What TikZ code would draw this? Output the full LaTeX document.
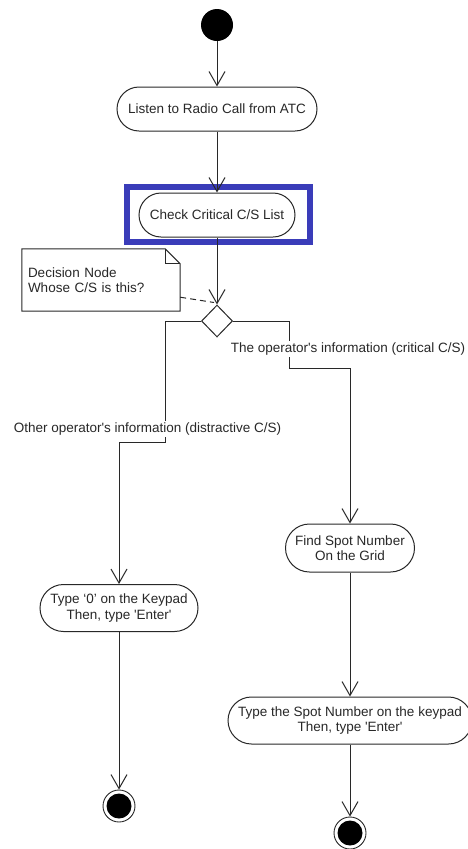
\documentclass[tikz,border=0pt]{standalone}
\usepackage{fontspec}
\setmainfont{Liberation Sans}
\usetikzlibrary{arrows.meta,shapes.geometric,calc,backgrounds}
\definecolor{ink}{RGB}{40,40,40}
\definecolor{frameblue}{RGB}{58,60,185}
\begin{document}
\begin{tikzpicture}[x=1pt,y=1pt,
  every node/.style={font=\fontsize{13.5}{15.5}\selectfont, text=ink},
  action/.style={draw=ink, line width=1pt, rectangle, align=center, inner sep=0pt, fill=white},
  flow/.style={draw=ink, line width=1pt, -{Straight Barb[length=14pt,width=16pt,line width=1pt]}},
  plain/.style={draw=ink, line width=1pt},
  guard/.style={fill=white, inner sep=1.5pt},
  startdot/.style={circle, fill=black, minimum size=32pt, inner sep=0pt},
  endring/.style={circle, draw=ink, line width=0.9pt, minimum size=32pt, inner sep=0pt,
    path picture={\fill[black] (path picture bounding box.center) circle (12.5pt);}},
  choice/.style={diamond, draw=ink, line width=1pt, fill=white, minimum width=31pt, minimum height=32pt, inner sep=0pt},
  notebox/.style={text width=146pt, align=left, inner sep=6pt, minimum height=62pt},
]
\useasboundingbox (0,0) rectangle (468,-849);

% activity nodes
\node[startdot] (start) at (217,-25) {};
\node[action, minimum width=200pt, minimum height=44pt, rounded corners=22pt] (listen) at (217,-109) {Listen to Radio Call from ATC};
\node[action, minimum width=156pt, minimum height=44pt, rounded corners=22pt] (check) at (217,-215) {Check Critical C/S List};
\node[draw=frameblue, line width=6pt, minimum width=183pt, minimum height=55pt, inner sep=0pt] (focus) at (218.5,-214.5) {};
\node[choice] (dec) at (217,-321) {};
\node[action, minimum width=129pt, minimum height=48pt, rounded corners=24pt] (find) at (350,-548) {Find Spot Number\\On the Grid};
\node[action, minimum width=158pt, minimum height=47pt, rounded corners=23.5pt] (type0) at (119,-608) {Type ‘0’ on the Keypad\\Then, type \textquotesingle Enter\textquotesingle};
\node[action, minimum width=244pt, minimum height=47pt, rounded corners=23.5pt] (typespot) at (350,-720.5) {Type the Spot Number on the keypad\\Then, type \textquotesingle Enter\textquotesingle};
\node[endring] (endL) at (119,-806) {};
\node[endring] (endR) at (350,-833) {};

% note with folded corner
\node[notebox] (note) at (101,-280) {Decision Node\\Whose C/S is this?};
\begin{scope}[on background layer]
  \draw[plain, fill=white] (note.north west) -- ($(note.north east)+(-15,0)$) -- ($(note.north east)+(0,-15)$)
    -- (note.south east) -- (note.south west) -- cycle;
  \draw[plain] ($(note.north east)+(-15,0)$) -- ++(0,-15) -- ($(note.north east)+(0,-15)$);
\end{scope}
\coordinate (notelink) at ($(note.south east)+(0,14)$);
\draw[plain, dash pattern=on 6pt off 4pt] (notelink) -- ($(dec.north)+(-3,2)$);

% control flow
\draw[flow] (start) -- (listen);
\draw[flow] (listen) -- (check.north);
\draw[flow] (check) -- (dec);
\coordinate (bendL) at (165,-442);
\coordinate (bendR) at (289,-368);
\draw[flow] (dec.west) -| (bendL) -| (type0.north);
\draw[flow] (dec.east) -| (bendR) -| (find.north);
\draw[flow] (find) -- (typespot);
\draw[flow] (type0) -- (endL);
\draw[flow] (typespot) -- (endR);

% guard labels on the branches
\node[guard] (lblL) at (147.5,-429) {Other operator\textquotesingle s information (distractive C/S)};
\node[guard] (lblR) at (348,-349) {The operator\textquotesingle s information (critical C/S)};
\end{tikzpicture}
\end{document}
